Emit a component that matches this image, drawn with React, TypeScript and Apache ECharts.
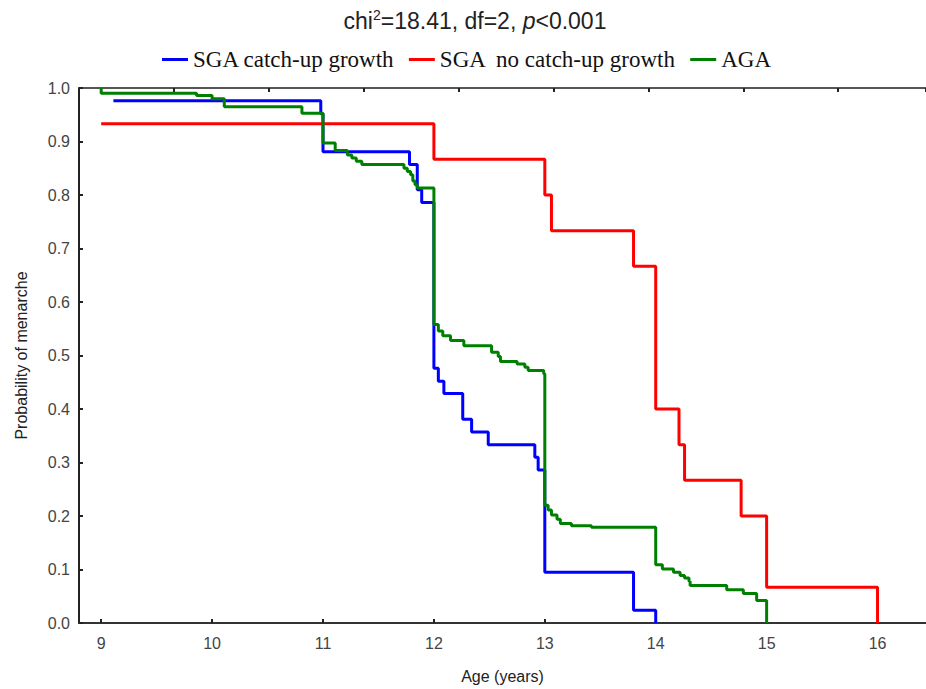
import React, { useEffect, useRef } from "react";
import * as echarts from "echarts";

const seriesNames = ["SGA catch-up growth", "SGA  no catch-up growth", "AGA"];
const seriesColors = ["#0000ff", "#ff0000", "#008000"];

// [age, survival] — value after the event at that age
const sgaCatchUp: [number, number][] = [
  [9.11, 0.976], [10.98, 0.952], [11.0, 0.881], [11.78, 0.857], [11.85, 0.810],
  [11.89, 0.786], [12.0, 0.476], [12.04, 0.452], [12.09, 0.429], [12.26, 0.381],
  [12.34, 0.357], [12.49, 0.333], [12.91, 0.310], [12.94, 0.286], [13.0, 0.095],
  [13.8, 0.024], [14.0, 0.0],
];

const sgaNoCatchUp: [number, number][] = [
  [9.0, 0.933], [12.0, 0.867], [13.0, 0.800], [13.06, 0.733], [13.8, 0.667],
  [14.0, 0.400], [14.21, 0.333], [14.26, 0.267], [14.77, 0.200], [15.0, 0.067],
  [16.0, 0.0],
];

const aga: [number, number][] = [
  [9.0, 1.0], [9.0, 0.990], [9.86, 0.986], [10.0, 0.980], [10.11, 0.965],
  [10.81, 0.953], [11.0, 0.897], [11.11, 0.883], [11.22, 0.875], [11.26, 0.869],
  [11.30, 0.863], [11.35, 0.857], [11.73, 0.850], [11.76, 0.844], [11.79, 0.838],
  [11.81, 0.826], [11.83, 0.819], [11.85, 0.813], [12.0, 0.558], [12.04, 0.546],
  [12.08, 0.537], [12.15, 0.528], [12.27, 0.518], [12.52, 0.506], [12.58, 0.498],
  [12.60, 0.489], [12.75, 0.484], [12.82, 0.478], [12.85, 0.472], [12.99, 0.466],
  [13.0, 0.220], [13.03, 0.211], [13.06, 0.202], [13.11, 0.194], [13.14, 0.186],
  [13.24, 0.182], [13.42, 0.179], [14.0, 0.109], [14.06, 0.101], [14.16, 0.095],
  [14.22, 0.089], [14.26, 0.084], [14.30, 0.078], [14.31, 0.070], [14.64, 0.062],
  [14.79, 0.055], [14.91, 0.042], [15.0, 0.0],
];

const ageTicks = [9, 10, 11, 12, 13, 14, 15, 16];

export default function App() {
  const ref = useRef<HTMLDivElement>(null);
  useEffect(() => {
    if (!ref.current) return;
    const chart = echarts.init(ref.current, null, { renderer: "svg" });
    const labelColor = "#444";
    const sans = "Liberation Sans, Arial";
    chart.setOption({
      animation: false,
      backgroundColor: "#fff",
      title: {
        left: 470,
        textAlign: "center",
        top: 3,
        text: "{a|chi}{s|2}{a|=18.41, df=2, }{i|p}{a|<0.001}",
        textStyle: {
          fontWeight: "normal",
          rich: {
            a: { fontFamily: sans, fontSize: 23, fontWeight: "normal", color: "#222", lineHeight: 26 },
            i: { fontFamily: sans, fontSize: 23, fontWeight: "normal", color: "#222", fontStyle: "italic", lineHeight: 26 },
            s: { fontFamily: sans, fontSize: 14, fontWeight: "normal", color: "#222", verticalAlign: "top", lineHeight: 26, padding: [0, 0, 10, 0] },
          },
        },
      },
      legend: {
        left: 157,
        top: 43,
        icon: "rect",
        itemWidth: 26,
        itemHeight: 3,
        itemGap: 14,
        textStyle: { fontFamily: "Liberation Serif, Times New Roman", fontSize: 23, color: "#111" },
        data: seriesNames,
      },
      grid: { left: 79, top: 88, right: 0, height: 537 },
      xAxis: [
        {
          type: "value",
          min: 8.8,
          max: 16.437,
          name: "Age (years)",
          nameLocation: "middle",
          nameGap: 45,
          nameTextStyle: { fontFamily: sans, fontSize: 16, color: "#222" },
          axisLine: { show: true, onZero: false, lineStyle: { color: "#333", width: 2 } },
          axisTick: { show: true, inside: true, length: 4, customValues: ageTicks, lineStyle: { color: "#222", width: 2 } },
          axisLabel: { customValues: ageTicks, margin: 12, fontFamily: sans, fontSize: 16, color: labelColor },
          splitLine: { show: false },
        },
        {
          type: "value",
          position: "top",
          min: 0,
          max: 8.925,
          interval: 1,
          axisLine: { show: true, onZero: false, lineStyle: { color: "#555", width: 2 } },
          axisTick: { show: true, inside: true, length: 4, lineStyle: { color: "#222", width: 2 } },
          axisLabel: { show: false },
          splitLine: { show: false },
        },
      ],
      yAxis: {
        type: "value",
        min: 0,
        max: 1,
        interval: 0.1,
        name: "Probability of menarche",
        nameLocation: "middle",
        nameGap: 50,
        nameTextStyle: { fontFamily: sans, fontSize: 16, color: "#222" },
        axisLine: { show: true, lineStyle: { color: "#222", width: 2 } },
        axisTick: { show: true, inside: true, length: 4, lineStyle: { color: "#222", width: 2 } },
        axisLabel: {
          margin: 9,
          fontFamily: sans,
          fontSize: 16,
          color: labelColor,
          formatter: (v: number) => v.toFixed(1),
        },
        splitLine: { show: false },
      },
      series: [sgaCatchUp, sgaNoCatchUp, aga].map((d, i) => ({
        name: seriesNames[i],
        type: "line",
        step: "end",
        xAxisIndex: 0,
        data: d,
        symbol: "none",
        color: seriesColors[i],
        lineStyle: { color: seriesColors[i], width: 3 },
      })),
    });
    return () => chart.dispose();
  }, []);
  return (
    <div
      ref={ref}
      style={{ position: "fixed", left: 0, top: 0, width: 926, height: 689, background: "#fff" }}
    />
  );
}
